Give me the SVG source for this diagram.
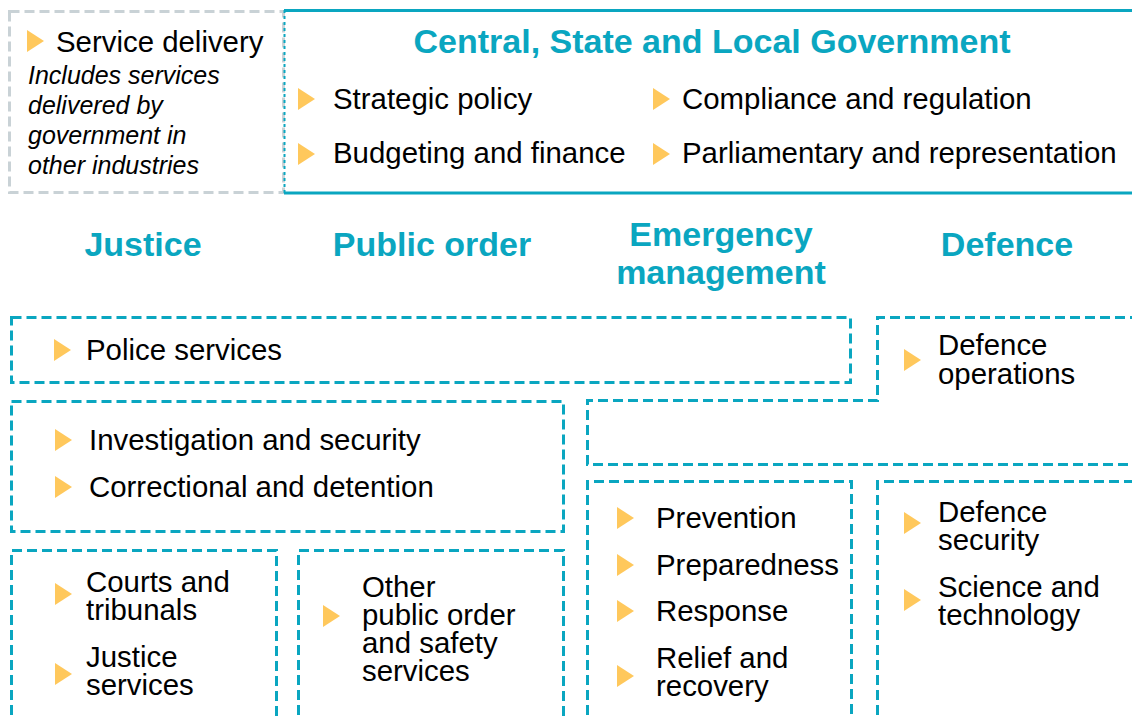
<svg xmlns="http://www.w3.org/2000/svg" width="1132" height="718" viewBox="0 0 1132 718">
<style>
.box{fill:none;stroke:#0AA6C0;stroke-width:3;stroke-dasharray:10 5}
.gbox{fill:none;stroke:#C9D2D6;stroke-width:3;stroke-dasharray:10 5}
.solid{fill:none;stroke:#0AA6C0;stroke-width:3}
.t{font-family:"Liberation Sans",Arial,sans-serif;font-size:29.4px;fill:#000}
.it{font-family:"Liberation Sans",Arial,sans-serif;font-size:25px;font-style:italic;fill:#000}
.h{font-family:"Liberation Sans",Arial,sans-serif;font-size:34px;font-weight:bold;fill:#0AA6C0;text-anchor:middle}
.b{fill:#FFC85C}
</style>
<defs>
<polygon id="tri" points="0,-11 0,11 17,0"/>
</defs>
<rect width="1132" height="718" fill="#fff"/>

<g id="service-delivery">
<rect class="gbox" x="9.5" y="11.5" width="274" height="181"/>
<use href="#tri" class="b" x="27" y="41"/>
<text class="t" x="56" y="52">Service delivery</text>
<text class="it"><tspan x="28" y="84">Includes services</tspan><tspan x="28" y="113.5">delivered by</tspan><tspan x="28" y="143.5">government in</tspan><tspan x="28" y="173.5">other industries</tspan></text>
</g>

<g id="government">
<path class="solid" d="M284,10.5 H1140 M284,193 H1140"/>
<path d="M284.5,10 V194" fill="none" stroke="#0AA6C0" stroke-width="2" stroke-dasharray="3 3"/>
<text class="h" x="712" y="53">Central, State and Local Government</text>
<use href="#tri" class="b" x="298" y="99"/>
<text class="t" x="333" y="109">Strategic policy</text>
<use href="#tri" class="b" x="298" y="154"/>
<text class="t" x="333" y="163">Budgeting and finance</text>
<use href="#tri" class="b" x="653" y="99"/>
<text class="t" x="682" y="109">Compliance and regulation</text>
<use href="#tri" class="b" x="653" y="154"/>
<text class="t" x="682" y="163">Parliamentary and representation</text>
</g>

<g id="headings">
<text class="h" x="143" y="256">Justice</text>
<text class="h" x="432" y="256">Public order</text>
<text class="h"><tspan x="721" y="246">Emergency</tspan><tspan x="721" y="284">management</tspan></text>
<text class="h" x="1007" y="256">Defence</text>
</g>

<g id="police">
<rect class="box" x="11.5" y="317.5" width="839" height="65"/>
<use href="#tri" class="b" x="54" y="350"/>
<text class="t" x="86" y="360">Police services</text>
</g>

<g id="defence-operations">
<path class="box" d="M1140,317.5 H877.5 V400.5 H587.5 V464.5 H1140"/>
<use href="#tri" class="b" x="904" y="360"/>
<text class="t"><tspan x="938" y="355">Defence</tspan><tspan x="938" y="384">operations</tspan></text>
</g>

<g id="investigation">
<rect class="box" x="11.5" y="401.5" width="552" height="130"/>
<use href="#tri" class="b" x="55" y="440"/>
<text class="t" x="89" y="450">Investigation and security</text>
<use href="#tri" class="b" x="55" y="487"/>
<text class="t" x="89" y="497">Correctional and detention</text>
</g>

<g id="courts">
<path class="box" d="M11.5,730 V550.5 H276.5 V730"/>
<use href="#tri" class="b" x="55" y="594"/>
<text class="t"><tspan x="86" y="592">Courts and</tspan><tspan x="86" y="620">tribunals</tspan></text>
<use href="#tri" class="b" x="55" y="674"/>
<text class="t"><tspan x="86" y="667">Justice</tspan><tspan x="86" y="695">services</tspan></text>
</g>

<g id="other-public-order">
<path class="box" d="M298.5,730 V550.5 H563.5 V730"/>
<use href="#tri" class="b" x="323" y="616"/>
<text class="t"><tspan x="362" y="597">Other</tspan><tspan x="362" y="625">public order</tspan><tspan x="362" y="653">and safety</tspan><tspan x="362" y="681">services</tspan></text>
</g>

<g id="emergency">
<path class="box" d="M587.5,730 V481.5 H851.5 V730"/>
<use href="#tri" class="b" x="617" y="518"/>
<text class="t" x="656" y="528">Prevention</text>
<use href="#tri" class="b" x="617" y="565"/>
<text class="t" x="656" y="575">Preparedness</text>
<use href="#tri" class="b" x="617" y="611"/>
<text class="t" x="656" y="621">Response</text>
<use href="#tri" class="b" x="617" y="676"/>
<text class="t"><tspan x="656" y="668">Relief and</tspan><tspan x="656" y="696">recovery</tspan></text>
</g>

<g id="defence-security">
<path class="box" d="M877.5,730 V481.5 H1140"/>
<use href="#tri" class="b" x="904" y="523"/>
<text class="t"><tspan x="938" y="522">Defence</tspan><tspan x="938" y="550">security</tspan></text>
<use href="#tri" class="b" x="904" y="600"/>
<text class="t"><tspan x="938" y="597">Science and</tspan><tspan x="938" y="625">technology</tspan></text>
</g>

<g id="connectors"></g>
</svg>
